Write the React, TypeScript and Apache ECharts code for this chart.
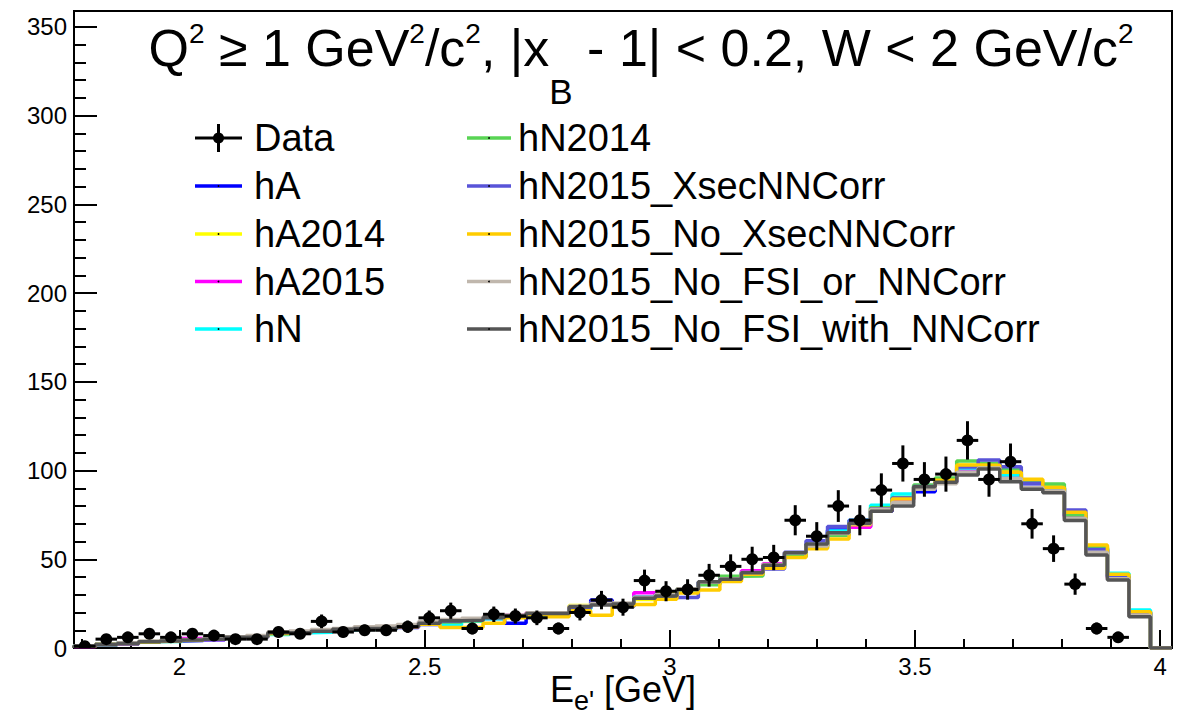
import React, { useEffect, useRef } from 'react';
import * as echarts from 'echarts';

const FONT = "'Liberation Sans', Arial, Helvetica, sans-serif";

// Histogram binning (x axis range and bin count)
const X_MIN = 1.785;
const X_MAX = 4.024;
const N_BINS = 51;

const X_MAJOR = [2, 2.5, 3, 3.5, 4];
const X_MINOR = [1.8, 1.9, 2.1, 2.2, 2.3, 2.4, 2.6, 2.7, 2.8, 2.9, 3.1, 3.2, 3.3, 3.4, 3.6, 3.7, 3.8, 3.9];
const Y_MAJOR = [0, 50, 100, 150, 200, 250, 300, 350];
const Y_MINOR = [10, 20, 30, 40, 60, 70, 80, 90, 110, 120, 130, 140, 160, 170, 180, 190, 210, 220, 230, 240, 260, 270, 280, 290, 310, 320, 330, 340];
const Y_MAX = 359;

// Data counts per bin (bins 0..48)
const DATA_COUNTS = [
  1, 5, 6, 8, 6, 8, 7, 5, 5, 9,
  8, 15, 9, 10, 10, 12, 17, 21, 11, 19,
  18, 17, 11, 20, 27, 23, 38, 32, 33, 41,
  46, 50, 51, 72, 63, 80, 72, 89, 104, 95,
  98, 117, 95, 105, 70, 56, 36, 11, 6,
];

const hA = [
  1.0, 1.8, 2.4, 3.3, 4.0, 4.2, 4.6, 5.6, 6.2, 7.8,
  8.4, 9.2, 10.0, 10.6, 10.8, 11.6, 13.2, 14.6, 15.4, 16.6,
  13.9, 18.8, 19.0, 22.5, 27.0, 23.6, 28.5, 29.0, 32.0, 36.5,
  39.5, 41.5, 45.8, 51.5, 57.5, 66.5, 68.5, 77.0, 84.0, 88.0,
  93.5, 101.0, 103.5, 98.0, 93.0, 90.0, 74.5, 56.0, 40.5, 20.0,
  0,
];
const hA2014 = [
  1.1, 2.1, 2.7, 3.6, 3.8, 4.6, 5.1, 6.2, 6.4, 8.4,
  8.8, 9.8, 10.2, 10.8, 11.4, 12.4, 13.6, 14.9, 15.1, 16.8,
  17.4, 19.0, 18.2, 24.0, 25.8, 23.4, 27.4, 31.5, 31.5, 36.8,
  38.4, 42.0, 46.0, 52.0, 57.8, 64.0, 70.0, 79.0, 85.0, 91.5,
  95.0, 103.0, 103.5, 99.4, 94.0, 90.9, 76.0, 57.5, 41.5, 20.8,
  0,
];
const hA2015 = [
  0.9, 2.2, 2.5, 3.4, 4.1, 5.3, 4.8, 5.8, 6.1, 8.2,
  9.0, 9.3, 10.4, 10.9, 11.2, 11.8, 14.2, 15.0, 15.9, 17.4,
  18.4, 19.9, 19.2, 22.8, 25.0, 24.0, 31.1, 30.0, 32.5, 37.0,
  39.0, 43.5, 47.5, 52.5, 58.0, 65.5, 68.0, 77.5, 83.5, 90.5,
  94.0, 101.0, 102.0, 97.0, 92.0, 89.5, 74.0, 55.5, 39.5, 19.5,
  0,
];
const hN = [
  1.2, 1.9, 2.8, 3.2, 3.7, 4.4, 5.2, 6.1, 6.5, 7.6,
  8.6, 8.9, 10.3, 10.5, 11.2, 12.2, 13.5, 13.0, 15.2, 16.5,
  17.6, 18.6, 18.8, 22.0, 24.8, 24.0, 28.8, 29.6, 32.4, 37.0,
  39.2, 42.2, 46.2, 52.6, 58.4, 66.0, 72.0, 80.5, 86.8, 91.0,
  94.5, 101.5, 102.5, 97.5, 92.5, 90.0, 76.0, 56.5, 42.1, 21.4,
  0,
];
const hN2014 = [
  1.0, 2.3, 2.7, 3.5, 4.2, 4.4, 5.3, 5.9, 6.0, 8.4,
  8.9, 9.6, 10.6, 11.1, 10.9, 12.1, 14.0, 14.6, 15.5, 17.0,
  17.9, 19.0, 19.4, 22.2, 24.6, 24.4, 28.2, 29.8, 33.2, 35.6,
  40.5, 40.6, 45.0, 51.5, 56.5, 63.6, 71.0, 79.0, 84.5, 91.8,
  95.8, 105.4, 104.1, 101.0, 93.0, 92.4, 75.0, 56.5, 40.0, 20.0,
  0,
];
const hN2015_XsecNNCorr = [
  1.1, 1.9, 2.3, 3.6, 3.9, 4.7, 4.9, 5.7, 6.4, 8.6,
  8.3, 9.4, 10.2, 11.3, 11.0, 12.4, 13.8, 15.2, 15.8, 17.0,
  17.6, 19.2, 19.8, 22.6, 26.2, 23.2, 28.6, 30.2, 28.5, 37.2,
  39.0, 42.6, 44.5, 54.0, 60.5, 68.5, 72.0, 78.5, 84.5, 91.0,
  94.0, 102.0, 106.0, 102.2, 92.8, 90.2, 77.8, 55.5, 40.5, 20.2,
  0,
];
const hN2015_No_XsecNNCorr = [
  1.0, 2.0, 2.6, 3.4, 4.0, 4.5, 5.1, 6.3, 6.6, 8.0,
  8.5, 9.7, 10.4, 10.8, 11.4, 12.0, 13.4, 11.6, 11.6, 13.9,
  17.0, 18.8, 17.6, 21.0, 18.5, 23.6, 24.5, 27.5, 31.0, 32.7,
  37.5, 41.5, 45.0, 51.0, 56.0, 61.5, 69.5, 78.0, 84.0, 90.5,
  94.5, 103.2, 103.0, 99.0, 95.1, 90.5, 76.5, 58.0, 41.5, 20.5,
  0,
];
const hN2015_No_FSI_or_NNCorr = [
  1.2, 2.1, 2.9, 3.8, 4.2, 4.8, 5.4, 6.3, 7.0, 9.2,
  9.6, 10.4, 11.0, 12.0, 12.4, 13.2, 15.0, 16.0, 16.8, 17.8,
  18.6, 19.8, 20.0, 23.6, 25.0, 25.4, 28.6, 30.0, 33.4, 37.0,
  39.0, 42.6, 47.0, 53.5, 57.5, 64.5, 70.0, 78.0, 82.0, 89.5,
  92.5, 99.0, 101.5, 95.5, 90.5, 88.5, 73.0, 54.0, 39.0, 18.4,
  0,
];
const hN2015_No_FSI_with_NNCorr = [
  1.1, 2.0, 2.6, 3.5, 3.9, 4.5, 5.0, 6.0, 6.3, 8.6,
  8.6, 9.5, 10.5, 11.0, 11.0, 12.0, 13.9, 15.4, 15.7, 17.2,
  18.0, 19.5, 19.5, 23.2, 24.2, 24.8, 28.0, 29.3, 33.0, 37.4,
  38.7, 42.4, 46.6, 53.7, 58.6, 65.0, 70.3, 77.0, 80.0, 90.9,
  93.4, 97.5, 100.9, 93.7, 89.4, 87.5, 71.8, 52.4, 38.3, 17.6,
  0,
];

const MC_NAMES = [
  'hA', 'hA2014', 'hA2015', 'hN', 'hN2014',
  'hN2015_XsecNNCorr', 'hN2015_No_XsecNNCorr', 'hN2015_No_FSI_or_NNCorr', 'hN2015_No_FSI_with_NNCorr',
];
const MC_VALUES = [
  hA, hA2014, hA2015, hN, hN2014,
  hN2015_XsecNNCorr, hN2015_No_XsecNNCorr, hN2015_No_FSI_or_NNCorr, hN2015_No_FSI_with_NNCorr,
];
const MC_COLORS = [
  '#0000ff', '#ffff00', '#ff00ff', '#00ffff', '#59d454',
  '#5954d8', '#ffcc00', '#c0b7ad', '#555555',
];

const TITLE = '{n|Q}{sp|2}{n| \u2265 1 GeV}{sp|2}{n|/c}{sp|2}{n|, |x}{sb|B}{n| - 1| < 0.2, W < 2 GeV/c}{sp|2}';

const BIN_W = (X_MAX - X_MIN) / N_BINS;
const EDGES = Array.from({ length: N_BINS + 1 }, (_, k) => X_MIN + k * BIN_W);

function histPoints(vals: number[]) {
  const pts: number[][] = [[EDGES[0], 0]];
  vals.forEach((v, k) => pts.push([EDGES[k], v]));
  pts.push([EDGES[N_BINS], vals[vals.length - 1]]);
  return pts;
}

function buildOption() {
  const mcSeries = MC_NAMES.map((name, i) => ({
    type: 'line',
    name,
    xAxisIndex: 0,
    yAxisIndex: 0,
    step: 'end',
    symbol: 'none',
    showSymbol: false,
    clip: true,
    silent: true,
    lineStyle: { color: MC_COLORS[i], width: 3.5 },
    itemStyle: { color: MC_COLORS[i] },
    data: histPoints(MC_VALUES[i]),
    z: 2 + i * 0.01,
  }));

  const dataSeries = {
    type: 'custom',
    name: 'Data',
    xAxisIndex: 0,
    yAxisIndex: 0,
    clip: true,
    silent: true,
    z: 5,
    encode: { x: 0, y: 1 },
    data: DATA_COUNTS.map((v, i) => [X_MIN + (i + 0.5) * BIN_W, v, Math.sqrt(v), BIN_W / 2]),
    renderItem: (params: any, api: any) => {
      const x = api.value(0);
      const y = api.value(1);
      const e = api.value(2);
      const hw = api.value(3);
      const c = api.coord([x, y]);
      const t = api.coord([x, y + e]);
      const b = api.coord([x, y - e]);
      const l = api.coord([x - hw, y]);
      const r = api.coord([x + hw, y]);
      const st = { stroke: '#000', lineWidth: 3 };
      return {
        type: 'group',
        children: [
          { type: 'line', shape: { x1: l[0], y1: c[1], x2: r[0], y2: c[1] }, style: st },
          { type: 'line', shape: { x1: c[0], y1: t[1], x2: c[0], y2: b[1] }, style: st },
          { type: 'circle', shape: { cx: c[0], cy: c[1], r: 6 }, style: { fill: '#000' } },
        ],
      };
    },
  };

  // Legend built from graphics (two columns)
  const legendEntries = ['Data', ...MC_NAMES];
  const rowsY = [138, 186, 234, 281.5, 329];
  const legendEls: any[] = [];
  legendEntries.forEach((name, idx) => {
    const col = idx < 5 ? 0 : 1;
    const row = idx % 5;
    const y = rowsY[row];
    const x1 = col === 0 ? 195 : 467;
    const x2 = col === 0 ? 242 : 511;
    const tx = col === 0 ? 254 : 518;
    const xm = (x1 + x2) / 2;
    if (name === 'Data') {
      legendEls.push({ type: 'line', z: 50, shape: { x1, y1: y, x2, y2: y }, style: { stroke: '#000', lineWidth: 3 } });
      legendEls.push({ type: 'line', z: 50, shape: { x1: xm, y1: y - 14, x2: xm, y2: y + 14 }, style: { stroke: '#000', lineWidth: 3 } });
      legendEls.push({ type: 'circle', z: 51, shape: { cx: xm, cy: y, r: 5.5 }, style: { fill: '#000' } });
    } else {
      const ci = MC_NAMES.indexOf(name);
      legendEls.push({ type: 'line', z: 50, shape: { x1, y1: y, x2, y2: y }, style: { stroke: MC_COLORS[ci], lineWidth: 3.5 } });
      legendEls.push({ type: 'circle', z: 51, shape: { cx: xm, cy: y, r: 0.9 }, style: { fill: '#000' } });
    }
    legendEls.push({
      type: 'text', z: 52, x: tx, y,
      style: { text: name, fill: '#000', font: `38px ${FONT}`, fontSize: 38, fontFamily: FONT, align: 'left', textAlign: 'left', verticalAlign: 'middle', textVerticalAlign: 'middle' },
    });
  });

  const titleEl = {
    type: 'text', z: 60, x: 641, y: 0,
    style: {
      text: TITLE,
      fill: '#000',
      font: `52px ${FONT}`,
      fontSize: 52,
      fontFamily: FONT,
      align: 'center', textAlign: 'center',
      verticalAlign: 'top', textVerticalAlign: 'top',
      rich: {
        n: { fontSize: 52, fontFamily: FONT, verticalAlign: 'top', padding: [22, 0, 0, 0], fill: '#000' },
        sp: { fontSize: 28, fontFamily: FONT, verticalAlign: 'top', padding: [19.5, 0, 0, 0], fill: '#000' },
        sb: { fontSize: 35, fontFamily: FONT, verticalAlign: 'top', padding: [73.5, 0, 0, 0], fill: '#000' },
      },
    },
  };

  const axisLine = { show: true, onZero: false, lineStyle: { color: '#000', width: 2 } };

  return {
    animation: false,
    backgroundColor: '#ffffff',
    grid: {
      left: 74, right: 17, top: 11, bottom: 70,
      containLabel: false, outerBoundsMode: 'none',
      show: true, borderColor: '#000', borderWidth: 2, backgroundColor: 'transparent',
    },
    xAxis: [
      {
        type: 'value', min: X_MIN, max: X_MAX, position: 'bottom',
        axisLine,
        axisTick: { show: true, inside: true, length: 18, customValues: X_MAJOR, lineStyle: { color: '#000', width: 2 } },
        axisLabel: { show: true, customValues: X_MAJOR, fontSize: 24, fontFamily: FONT, color: '#000', margin: 6 },
        splitLine: { show: false },
        name: "{n|E}{s|e'}{n| [GeV]}",
        nameLocation: 'middle',
        nameGap: 23.5,
        nameMoveOverlap: false,
        nameTextStyle: {
          color: '#000', fontSize: 36, fontFamily: FONT,
          rich: {
            n: { fontSize: 36, fontFamily: FONT, color: '#000', lineHeight: 36, verticalAlign: 'top', padding: [0, 0, 0, 0] },
            s: { fontSize: 27, fontFamily: FONT, color: '#000', lineHeight: 36, verticalAlign: 'top', padding: [15.5, 0, 0, 0] },
          },
        },
      },
      {
        type: 'value', min: X_MIN, max: X_MAX, position: 'bottom', offset: 0,
        axisLine: { show: false },
        axisTick: { show: true, inside: true, length: 9, customValues: X_MINOR, lineStyle: { color: '#000', width: 2 } },
        axisLabel: { show: false },
        splitLine: { show: false },
      },
    ],
    yAxis: [
      {
        type: 'value', min: 0, max: Y_MAX, position: 'left',
        axisLine,
        axisTick: { show: true, inside: true, length: 23, customValues: Y_MAJOR, lineStyle: { color: '#000', width: 2 } },
        axisLabel: { show: true, customValues: Y_MAJOR, fontSize: 24, fontFamily: FONT, color: '#000', margin: 7 },
        splitLine: { show: false },
      },
      {
        type: 'value', min: 0, max: Y_MAX, position: 'left', offset: 0,
        axisLine: { show: false },
        axisTick: { show: true, inside: true, length: 12, customValues: Y_MINOR, lineStyle: { color: '#000', width: 2 } },
        axisLabel: { show: false },
        splitLine: { show: false },
      },
    ],
    series: [...mcSeries, dataSeries],
    graphic: [titleEl, ...legendEls],
  };
}

export default function App() {
  const ref = useRef<HTMLDivElement>(null);
  useEffect(() => {
    if (!ref.current) return;
    const chart = echarts.init(ref.current, null, { renderer: 'svg' });
    chart.setOption(buildOption() as any);
    return () => chart.dispose();
  }, []);
  return (
    <div
      ref={ref}
      style={{ position: 'fixed', left: 0, top: 0, width: 1189, height: 718, background: '#fff' }}
    />
  );
}
